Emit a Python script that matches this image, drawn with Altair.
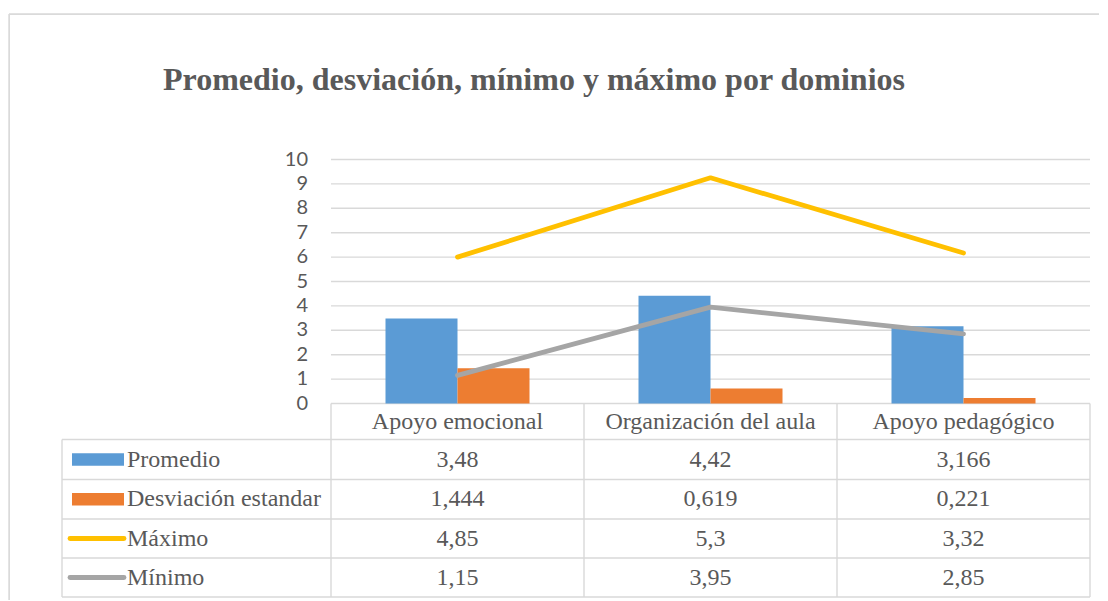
import altair as alt
import pandas as pd

# ---------------- data ----------------
categorias = ["Apoyo emocional", "Organización del aula", "Apoyo pedagógico"]
promedio = [3.48, 4.42, 3.166]
desviacion = [1.444, 0.619, 0.221]
maximo = [4.85, 5.3, 3.32]
minimo = [1.15, 3.95, 2.85]
series = ["Promedio", "Desviación estandar", "Máximo", "Mínimo"]
colores = ["#5B9BD5", "#ED7D31", "#FFC000", "#A5A5A5"]
y_ticks = [0, 1, 2, 3, 4, 5, 6, 7, 8, 9, 10]
titulo = "Promedio, desviación, mínimo y máximo por dominios"

# ---------------- layout (pixels) ----------------
VIEW_W, VIEW_H = 1090, 586
PX_X = 253.0          # pixels per category
PX_Y = 24.4           # pixels per value unit
PLOT_LEFT = 322       # frame left -> first category boundary
ZERO_Y = 389.5        # frame top -> value 0
LEG_W = 269           # legend column width
ROW_PX = [0, 36, 76, 115.5, 154.5, 193.5]  # table row boundaries below the axis
BAR_PX = 72
TEXT = "#595959"
GRID = "#D9D9D9"
SERIF = "Liberation Serif"


def ux(px):
    return px / PX_X


def uy(px):
    return px / PX_Y


X_DOM = [ux(-PLOT_LEFT), ux(VIEW_W - PLOT_LEFT)]
Y_DOM = [-uy(VIEW_H - ZERO_Y), uy(ZERO_Y)]
XS = alt.Scale(domain=X_DOM, nice=False, zero=False)
YS = alt.Scale(domain=Y_DOM, nice=False, zero=False)
CS = alt.Scale(domain=series, range=colores)

n = len(categorias)
values = [promedio, desviacion, maximo, minimo]
leg_x0 = -ux(LEG_W)

# ---- frame (top + left edge), grid + table lines ----
seg = []
seg.append(dict(x=X_DOM[0], x2=X_DOM[1], y=Y_DOM[1], y2=Y_DOM[1]))
seg.append(dict(x=X_DOM[0], x2=X_DOM[0], y=Y_DOM[0], y2=Y_DOM[1]))
for t in y_ticks[1:]:
    seg.append(dict(x=0, x2=n, y=t, y2=t))
seg.append(dict(x=0, x2=n, y=0, y2=0))
for r in ROW_PX[1:]:
    seg.append(dict(x=leg_x0, x2=n, y=-uy(r), y2=-uy(r)))
for i in range(n + 1):
    seg.append(dict(x=i, x2=i, y=0, y2=-uy(ROW_PX[-1])))
seg.append(dict(x=leg_x0, x2=leg_x0, y=-uy(ROW_PX[1]), y2=-uy(ROW_PX[-1])))
df_seg = pd.DataFrame(seg)

lines_layer = alt.Chart(df_seg).mark_rule(color=GRID, strokeWidth=1.4).encode(
    x=alt.X("x:Q", scale=XS, axis=None),
    x2="x2:Q",
    y=alt.Y("y:Q", scale=YS, axis=None),
    y2="y2:Q",
)

# ---- bars ----
bw = ux(BAR_PX)
bars = []
for i, c in enumerate(categorias):
    for k in range(2):
        x0 = i + 0.5 - bw + k * bw
        bars.append(dict(cat=c, serie=series[k], x=x0, x2=x0 + bw, v=values[k][i], v0=0))
df_bars = pd.DataFrame(bars)

bar_layer = alt.Chart(df_bars).mark_rect().encode(
    x=alt.X("x:Q", scale=XS, axis=None),
    x2="x2:Q",
    y=alt.Y("v:Q", scale=YS, axis=None),
    y2="v0:Q",
    color=alt.Color("serie:N", scale=CS, legend=None),
)

# ---- stacked lines (Mínimo at bottom, Máximo stacked on it) ----
df_wide = pd.DataFrame(dict(cat=categorias, xc=[i + 0.5 for i in range(n)], maximo=maximo, minimo=minimo))
line_base = alt.Chart(df_wide)
min_line = line_base.transform_calculate(serie="'Mínimo'", yv="datum.minimo").mark_line(
    strokeWidth=4.8, strokeCap="round", strokeJoin="round"
).encode(
    x=alt.X("xc:Q", scale=XS, axis=None),
    y=alt.Y("yv:Q", scale=YS, axis=None),
    color=alt.Color("serie:N", scale=CS, legend=None),
)
max_line = line_base.transform_calculate(serie="'Máximo'", yv="datum.minimo + datum.maximo").mark_line(
    strokeWidth=4.8, strokeCap="round", strokeJoin="round"
).encode(
    x=alt.X("xc:Q", scale=XS, axis=None),
    y=alt.Y("yv:Q", scale=YS, axis=None),
    color=alt.Color("serie:N", scale=CS, legend=None),
)

# ---- y tick labels ----
df_ticks = pd.DataFrame(dict(t=y_ticks, x=[-ux(23)] * len(y_ticks)))
tick_layer = alt.Chart(df_ticks).mark_text(
    align="right", baseline="middle", font="Lato", fontSize=20, color=TEXT
).encode(
    x=alt.X("x:Q", scale=XS, axis=None),
    y=alt.Y("t:Q", scale=YS, axis=None),
    text="t:Q",
)

# ---- table texts ----
txt = []
for i, c in enumerate(categorias):
    txt.append(dict(x=i + 0.5, y=-uy((ROW_PX[0] + ROW_PX[1]) / 2), s=c))
    for k in range(4):
        yc = -uy((ROW_PX[k + 1] + ROW_PX[k + 2]) / 2)
        txt.append(dict(x=i + 0.5, y=yc, s=str(values[k][i]).replace(".", ",")))
df_txt = pd.DataFrame(txt)
table_text = alt.Chart(df_txt).mark_text(
    align="center", baseline="middle", font=SERIF, fontSize=24, color=TEXT
).encode(
    x=alt.X("x:Q", scale=XS, axis=None),
    y=alt.Y("y:Q", scale=YS, axis=None),
    text="s:N",
)

# ---- legend column ----
leg = []
for k, s in enumerate(series):
    yc = -uy((ROW_PX[k + 1] + ROW_PX[k + 2]) / 2)
    leg.append(dict(serie=s, xl=leg_x0 + ux(65), y=yc,
                    x0=leg_x0 + ux(10 if k < 2 else 8), x1=leg_x0 + ux(62),
                    ya=yc + uy(6.3), yb=yc - uy(6.3), kind="bar" if k < 2 else "line"))
df_leg = pd.DataFrame(leg)

leg_text = alt.Chart(df_leg).mark_text(
    align="left", baseline="middle", font=SERIF, fontSize=24, color=TEXT
).encode(
    x=alt.X("xl:Q", scale=XS, axis=None),
    y=alt.Y("y:Q", scale=YS, axis=None),
    text="serie:N",
)
leg_rect = alt.Chart(df_leg).transform_filter("datum.kind == 'bar'").mark_rect().encode(
    x=alt.X("x0:Q", scale=XS, axis=None),
    x2="x1:Q",
    y=alt.Y("ya:Q", scale=YS, axis=None),
    y2="yb:Q",
    color=alt.Color("serie:N", scale=CS, legend=None),
)
leg_line = alt.Chart(df_leg).transform_filter("datum.kind == 'line'").mark_rule(
    strokeWidth=4.8, strokeCap="round"
).encode(
    x=alt.X("x0:Q", scale=XS, axis=None),
    x2="x1:Q",
    y=alt.Y("y:Q", scale=YS, axis=None),
    color=alt.Color("serie:N", scale=CS, legend=None),
)

chart = alt.layer(
    lines_layer, bar_layer, min_line, max_line, tick_layer, table_text, leg_text, leg_rect, leg_line
).properties(
    width=VIEW_W,
    height=VIEW_H,
    autosize=alt.AutoSizeParams(type="none"),
    padding={"left": 1, "top": 6, "right": 0, "bottom": 0},
    title=alt.TitleParams(
        text=titulo, font=SERIF, fontSize=32, fontWeight="bold", color=TEXT,
        anchor="middle", dx=-20, dy=109, offset=0, baseline="alphabetic", frame="group",
    ),
).configure_view(
    strokeWidth=0
).configure(
    background="white"
)

chart.save("out.html", embed_options={"renderer": "svg", "actions": False})
